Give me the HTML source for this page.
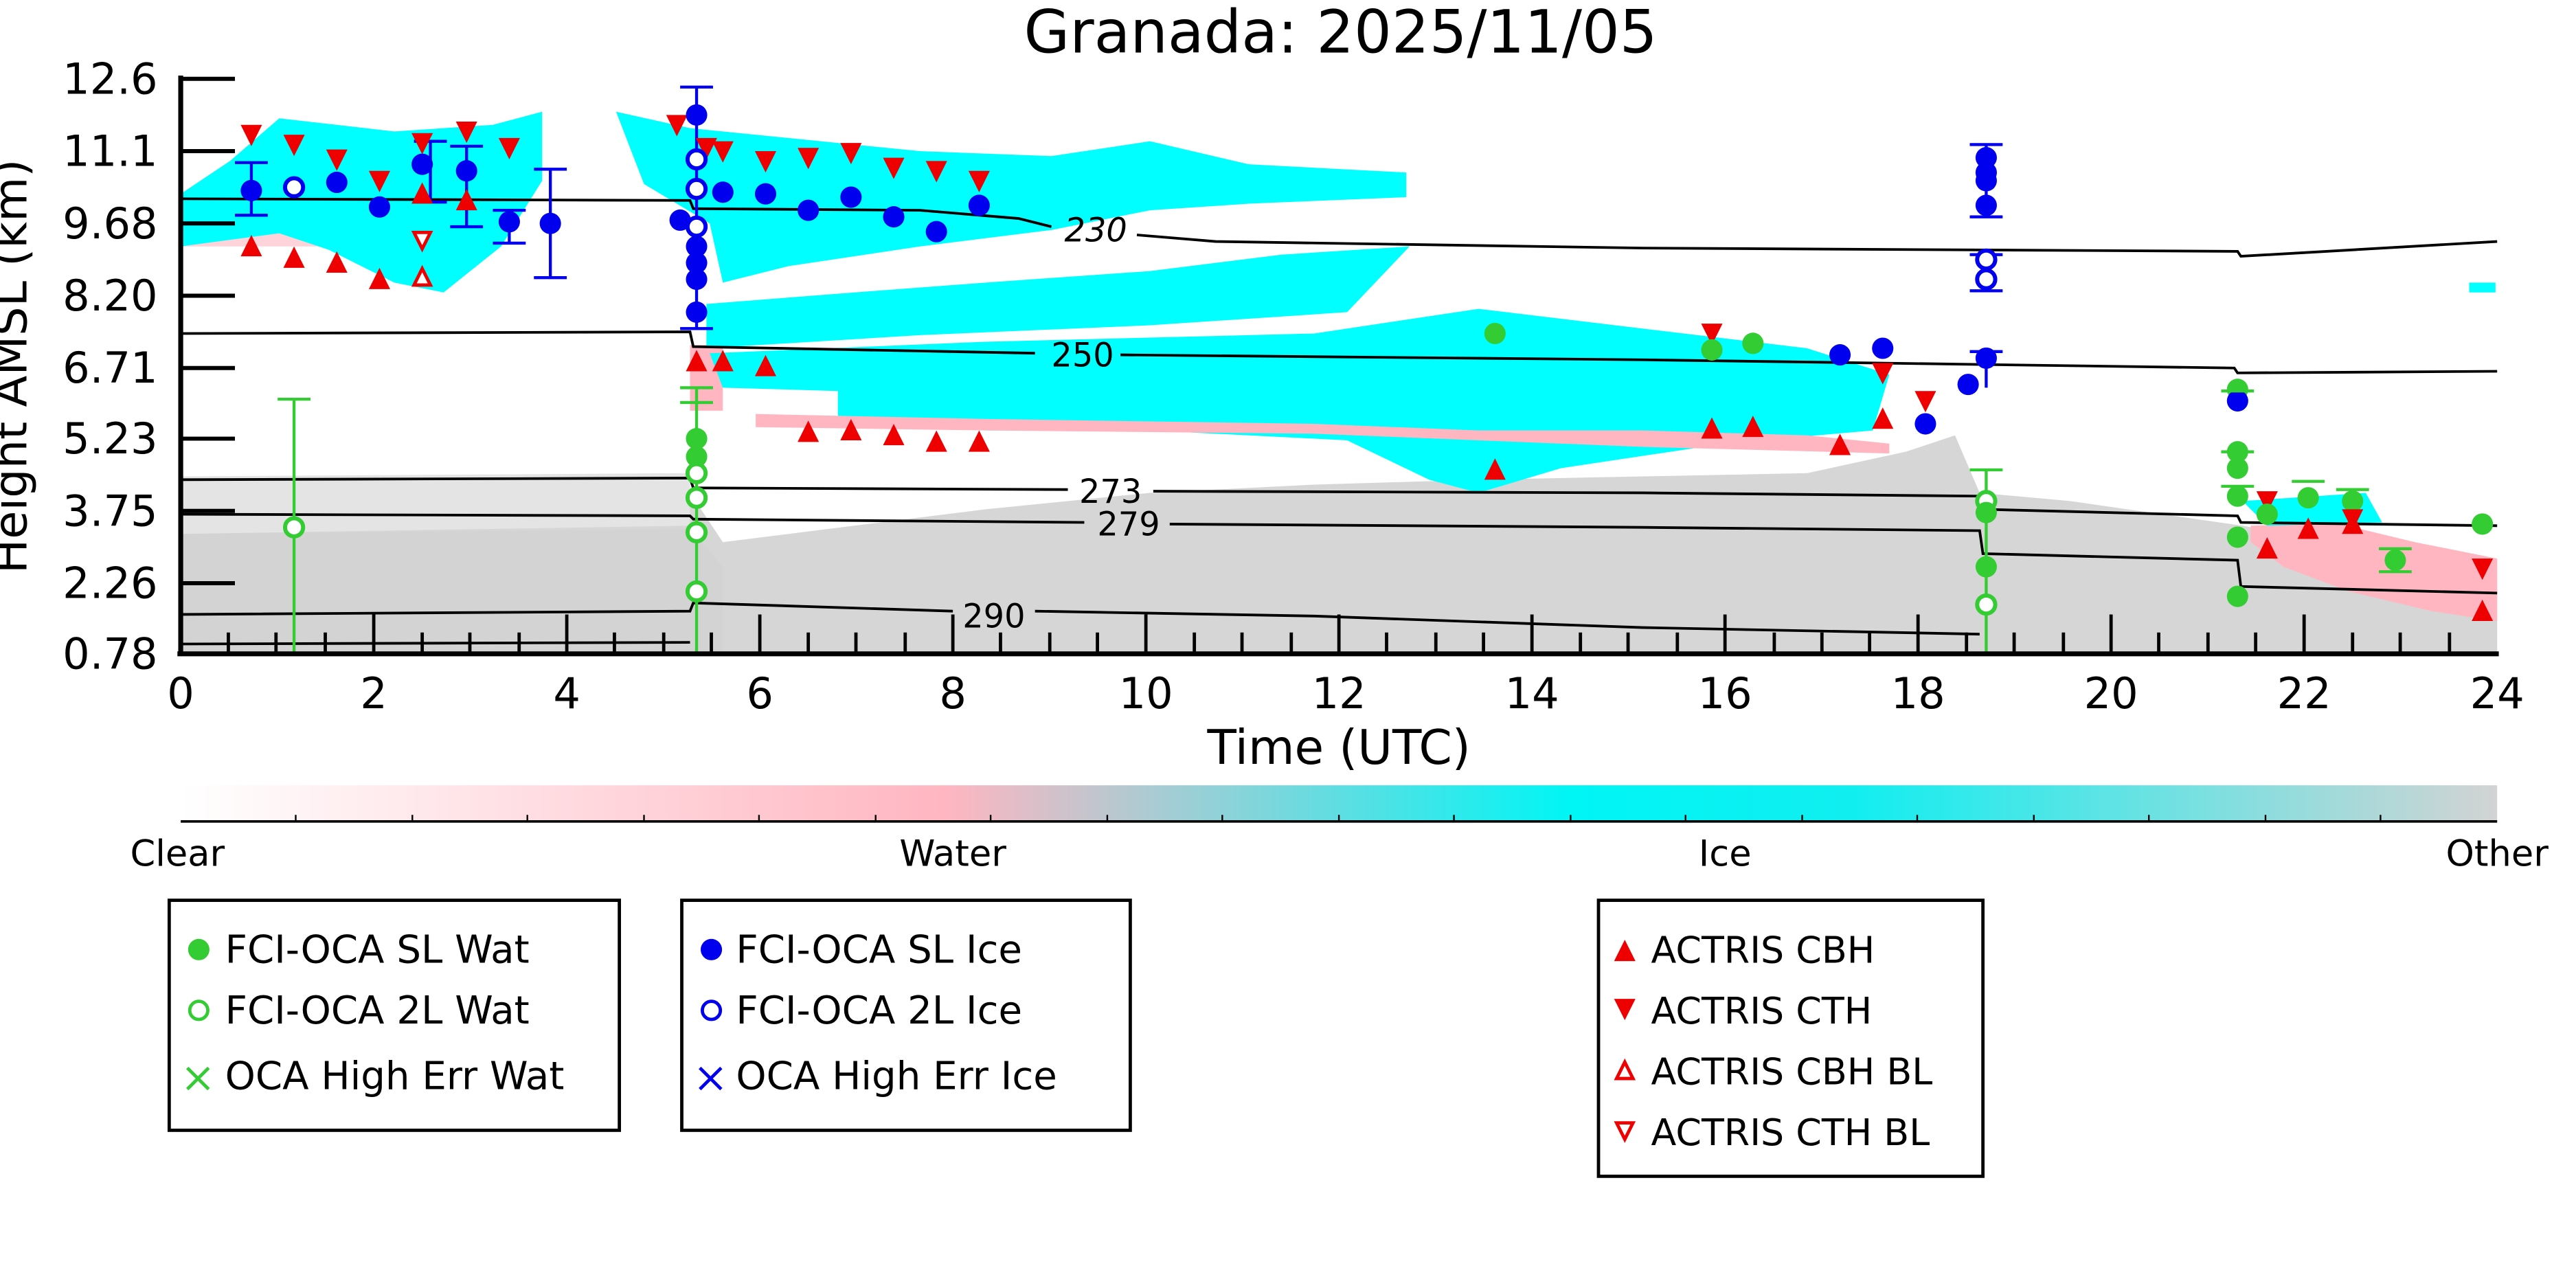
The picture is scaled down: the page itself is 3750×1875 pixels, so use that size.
<!DOCTYPE html>
<html><head><meta charset="utf-8"><style>html,body{margin:0;padding:0;background:#fff}svg{display:block}</style></head>
<body>
<svg width="3750" height="1875" viewBox="0 0 1568 784" xmlns="http://www.w3.org/2000/svg" font-family="'DejaVu Sans','Liberation Sans',sans-serif">
<defs>
<linearGradient id="cb" x1="0" x2="1">
<stop offset="0" stop-color="#fff"/><stop offset="0.33" stop-color="#ffb6c1"/><stop offset="0.6" stop-color="#00f5f5"/><stop offset="0.72" stop-color="#10eef0"/><stop offset="1" stop-color="#d3d3d3"/>
</linearGradient>
<g id="bc"><circle r="6.5" fill="#0000ee"/></g>
<g id="bo"><circle r="5.5" fill="#fff" stroke="#0000ee" stroke-width="2.5"/></g>
<g id="gc"><circle r="6.5" fill="#33cc33"/></g>
<g id="go"><circle r="5.5" fill="#fff" stroke="#33cc33" stroke-width="2.5"/></g>
<g id="tu"><polygon points="0,-7 6.5,6 -6.5,6" fill="#ee0000"/></g>
<g id="td"><polygon points="0,7 6.5,-6 -6.5,-6" fill="#ee0000"/></g>
<g id="tuo"><polygon points="0,-5.5 5,4.5 -5,4.5" fill="#fff" stroke="#ee0000" stroke-width="2"/></g>
<g id="tdo"><polygon points="0,5.5 5,-4.5 -5,-4.5" fill="#fff" stroke="#ee0000" stroke-width="2"/></g>
</defs>

<text x="816" y="32" font-size="36" text-anchor="middle">Granada: 2025/11/05</text>

<path d="M110,398 L110,300 L300,298 L420,300 L440,330 L520,320 L600,310 L700,300 L800,295 L900,292 L1000,290 L1100,288 L1160,275 L1190,265 L1205,300 L1260,305 L1365,320 L1420,330 L1520,345 L1520,398 Z" fill="#d6d6d6"/>
<path d="M110,290 L420,288 L420,320 L110,325 Z" fill="#e4e4e4"/>
<path d="M110,398 L110,325 L420,322 L440,345 L440,398 Z" fill="#d3d3d3"/>
<path d="M1370,320 L1420,318 L1470,330 L1520,340 L1520,378 L1480,372 L1430,360 L1390,345 L1370,330 Z" fill="#ffb6c1"/>
<path d="M110,150 L300,150 L270,175 L240,170 L200,150 L170,140 L110,140 Z" fill="#ffb6c1" opacity="0.6"/>
<path d="M420,210 L440,210 L440,250 L420,250 Z" fill="#ffb6c1"/>
<path d="M110,118 L140,98 L170,72 L240,80 L300,76 L330,68 L330,110 L305,150 L270,178 L240,172 L200,152 L170,142 L140,146 L110,150 Z" fill="#00ffff"/>
<path d="M375,68 L420,78 L480,84 L560,92 L640,95 L700,86 L760,100 L856,105 L856,120 L760,124 L700,128 L640,140 L560,150 L480,162 L440,172 L432,136 L392,112 Z" fill="#00ffff"/>
<path d="M430,185 L520,178 L600,172 L700,165 L780,155 L858,150 L820,190 L700,198 L560,204 L430,212 Z" fill="#00ffff"/>
<path d="M432,215 L600,208 L800,203 L900,188 L1000,200 L1100,212 L1150,228 L1140,262 L1050,270 L950,285 L900,300 L870,292 L820,268 L700,262 L600,262 L510,258 L510,238 L440,236 Z" fill="#00ffff"/>
<path d="M1365,305 L1440,300 L1450,318 L1380,320 Z" fill="#00ffff"/>
<rect x="1503" y="172" width="16" height="6" fill="#00ffff"/>
<path d="M460,252 L600,255 L800,258 L900,262 L1000,262 L1100,265 L1150,270 L1150,276 L1000,272 L900,268 L800,264 L600,262 L460,260 Z" fill="#ffb6c1"/>

<g fill="none" stroke="#000" stroke-width="1.6">
<polyline points="110,121 420,122 422,127 560,128 620,133 640,138"/>
<polyline points="692,143 740,147 1000,151 1362,153 1364,156 1520,147"/>
<polyline points="110,203 420,202 422,211 630,215"/>
<polyline points="682,216 1000,219 1360,224 1362,227 1520,226"/>
<polyline points="110,292 420,291 422,297 650,298"/>
<polyline points="702,299 1000,300 1205,302 1207,310 1362,314 1364,318 1520,320"/>
<polyline points="110,313 420,314 422,316 660,318"/>
<polyline points="712,319 1000,321 1205,323 1207,337 1362,341 1364,357 1520,361"/>
<polyline points="110,374 420,372 422,367 580,372"/>
<polyline points="630,372 800,375 1000,382 1205,386"/>
<polyline points="110,392 420,391"/>
</g>
<g font-size="20" text-anchor="middle">
<text x="667" y="147" font-style="italic">230</text>
<text x="659" y="223">250</text>
<text x="676" y="306">273</text>
<text x="687" y="326">279</text>
<text x="605" y="382">290</text>
</g>

<g stroke="#0000ee" stroke-width="1.8" fill="none">
<path d="M153,99V131M143,99H163M143,131H163"/>
<path d="M262,86V123M252,86H272M252,123H272"/>
<path d="M284,89V138M274,89H294M274,138H294"/>
<path d="M335,103V169M325,103H345M325,169H345"/>
<path d="M310,128V148M300,128H320M300,148H320"/>
<path d="M424,53V200M414,53H434M414,200H434"/>
<path d="M1209,88V132M1199,88H1219M1199,132H1219"/>
<path d="M1209,155V177M1199,155H1219M1199,177H1219"/>
<path d="M1209,214V236M1199,214H1219"/>
</g>
<g stroke="#33cc33" stroke-width="1.8" fill="none">
<path d="M179,243V398M169,243H189"/>
<path d="M424,236V398M414,236H434M414,245H434"/>
<path d="M1209,286V398M1199,286H1219"/>
</g>

<g>
<use href="#td" x="153" y="82"/><use href="#td" x="179" y="88"/><use href="#td" x="205" y="97"/><use href="#td" x="231" y="110"/><use href="#td" x="257" y="87"/><use href="#td" x="284" y="80"/><use href="#td" x="310" y="90"/>
<use href="#tu" x="153" y="150"/><use href="#tu" x="179" y="157"/><use href="#tu" x="205" y="160"/><use href="#tu" x="231" y="170"/><use href="#tu" x="257" y="118"/><use href="#tu" x="284" y="122"/>
<use href="#tdo" x="257" y="146"/><use href="#tuo" x="257" y="169"/>
<use href="#bc" x="153" y="116"/><use href="#bo" x="179" y="114"/><use href="#bc" x="205" y="111"/><use href="#bc" x="231" y="126"/><use href="#bc" x="257" y="100"/><use href="#bc" x="284" y="104"/><use href="#bc" x="310" y="135"/><use href="#bc" x="335" y="136"/>
<use href="#td" x="412" y="76"/><use href="#td" x="430" y="90"/><use href="#td" x="440" y="92"/><use href="#td" x="466" y="98"/><use href="#td" x="492" y="96"/><use href="#td" x="518" y="93"/><use href="#td" x="544" y="102"/><use href="#td" x="570" y="104"/><use href="#td" x="596" y="110"/>
<use href="#tu" x="424" y="220"/><use href="#tu" x="440" y="220"/><use href="#tu" x="466" y="223"/><use href="#tu" x="492" y="263"/><use href="#tu" x="518" y="262"/><use href="#tu" x="544" y="265"/><use href="#tu" x="570" y="269"/><use href="#tu" x="596" y="269"/>
<use href="#bc" x="424" y="70"/><use href="#bo" x="424" y="97"/><use href="#bo" x="424" y="115"/><use href="#bc" x="414" y="134"/><use href="#bo" x="424" y="138"/><use href="#bc" x="424" y="150"/><use href="#bc" x="424" y="160"/><use href="#bc" x="424" y="170"/><use href="#bc" x="424" y="190"/>
<use href="#bc" x="440" y="117"/><use href="#bc" x="466" y="118"/><use href="#bc" x="492" y="128"/><use href="#bc" x="518" y="120"/><use href="#bc" x="544" y="132"/><use href="#bc" x="570" y="141"/><use href="#bc" x="596" y="125"/>
<use href="#gc" x="424" y="267"/><use href="#gc" x="424" y="278"/><use href="#go" x="424" y="288"/><use href="#go" x="424" y="303"/><use href="#go" x="424" y="324"/><use href="#go" x="424" y="360"/><use href="#go" x="179" y="321"/>
<use href="#tu" x="910" y="286"/><use href="#gc" x="910" y="203"/>
<use href="#td" x="1042" y="203"/><use href="#gc" x="1042" y="213"/><use href="#gc" x="1067" y="209"/>
<use href="#tu" x="1042" y="261"/><use href="#tu" x="1067" y="260"/><use href="#tu" x="1120" y="271"/><use href="#tu" x="1146" y="255"/>
<use href="#bc" x="1120" y="216"/><use href="#bc" x="1146" y="212"/><use href="#td" x="1146" y="227"/><use href="#td" x="1172" y="244"/><use href="#bc" x="1172" y="258"/><use href="#bc" x="1198" y="234"/>
<use href="#bc" x="1209" y="96"/><use href="#bc" x="1209" y="105"/><use href="#bc" x="1209" y="110"/><use href="#bc" x="1209" y="125"/><use href="#bo" x="1209" y="158"/><use href="#bo" x="1209" y="170"/><use href="#bc" x="1209" y="218"/>
<use href="#go" x="1209" y="305"/><use href="#gc" x="1209" y="312"/><use href="#gc" x="1209" y="345"/><use href="#go" x="1209" y="368"/>
<use href="#gc" x="1362" y="237"/><use href="#bc" x="1362" y="244"/><use href="#gc" x="1362" y="275"/><use href="#gc" x="1362" y="285"/><use href="#gc" x="1362" y="302"/><use href="#gc" x="1362" y="327"/><use href="#gc" x="1362" y="363"/>
<use href="#td" x="1380" y="305"/><use href="#gc" x="1380" y="313"/><use href="#tu" x="1380" y="334"/>
<use href="#gc" x="1405" y="303"/><use href="#tu" x="1405" y="322"/><use href="#gc" x="1432" y="305"/><use href="#td" x="1432" y="316"/><use href="#tu" x="1432" y="319"/>
<use href="#gc" x="1458" y="341"/><use href="#gc" x="1511" y="319"/><use href="#td" x="1511" y="346"/><use href="#tu" x="1511" y="372"/>
</g>
<g stroke="#33cc33" stroke-width="1.8"><path d="M1352,275H1372M1352,296H1372M1352,238H1372M1395,293H1415M1422,298H1442M1448,334H1468M1448,348H1468"/></g>

<g stroke="#000" fill="none">
<line x1="110" y1="46" x2="110" y2="399" stroke-width="3"/>
<line x1="108" y1="398" x2="1521" y2="398" stroke-width="3"/>
<g stroke-width="2.5">
<path d="M110,48h33M110,92h33M110,136h33M110,180h33M110,224h33M110,267h33M110,311h33M110,355h33"/>
</g>
<g stroke-width="2">
<path d="M227.5,398v-24M345,398v-24M462.5,398v-24M580,398v-24M697.5,398v-24M815,398v-24M932.5,398v-24M1050,398v-24M1167.5,398v-24M1285,398v-24M1402.5,398v-24"/>
<path d="M139,398v-13M168,398v-13M198,398v-13M257,398v-13M286,398v-13M316,398v-13M374,398v-13M404,398v-13M433,398v-13M492,398v-13M521,398v-13M551,398v-13M609,398v-13M639,398v-13M668,398v-13M727,398v-13M756,398v-13M786,398v-13M844,398v-13M874,398v-13M903,398v-13M962,398v-13M991,398v-13M1021,398v-13M1080,398v-13M1109,398v-13M1138,398v-13M1197,398v-13M1226,398v-13M1256,398v-13M1314,398v-13M1344,398v-13M1373,398v-13M1432,398v-13M1461,398v-13M1491,398v-13"/>
</g>
</g>
<g font-size="26" text-anchor="end">
<text x="96" y="57">12.6</text><text x="96" y="101">11.1</text><text x="96" y="145">9.68</text><text x="96" y="189">8.20</text><text x="96" y="233">6.71</text><text x="96" y="276">5.23</text><text x="96" y="320">3.75</text><text x="96" y="364">2.26</text><text x="96" y="407">0.78</text>
</g>
<g font-size="26" text-anchor="middle">
<text x="110" y="431">0</text><text x="227.5" y="431">2</text><text x="345" y="431">4</text><text x="462.5" y="431">6</text><text x="580" y="431">8</text><text x="697.5" y="431">10</text><text x="815" y="431">12</text><text x="932.5" y="431">14</text><text x="1050" y="431">16</text><text x="1167.5" y="431">18</text><text x="1285" y="431">20</text><text x="1402.5" y="431">22</text><text x="1520" y="431">24</text>
</g>
<text x="815" y="465" font-size="29" text-anchor="middle">Time (UTC)</text>
<text transform="translate(16,223) rotate(-90)" font-size="28" text-anchor="middle">Height AMSL (km)</text>

<rect x="110" y="478" width="1410" height="22" fill="url(#cb)"/>
<line x1="110" y1="500" x2="1520" y2="500" stroke="#000" stroke-width="1.5"/>
<g stroke="#000" stroke-width="1"><path d="M180,500v-4M251,500v-4M321,500v-4M392,500v-4M462,500v-4M533,500v-4M603,500v-4M674,500v-4M744,500v-4M815,500v-4M885,500v-4M956,500v-4M1026,500v-4M1097,500v-4M1167,500v-4M1238,500v-4M1308,500v-4M1379,500v-4M1449,500v-4"/></g>
<g font-size="22" text-anchor="middle">
<text x="108" y="527">Clear</text><text x="580" y="527">Water</text><text x="1050" y="527">Ice</text><text x="1520" y="527">Other</text>
</g>

<g fill="none" stroke="#000" stroke-width="2">
<rect x="103" y="548" width="274" height="140"/>
<rect x="415" y="548" width="273" height="140"/>
<rect x="973" y="548" width="234" height="168"/>
</g>
<g font-size="23.5">
<circle cx="121" cy="578" r="6.5" fill="#33cc33"/><text x="137" y="586">FCI-OCA SL Wat</text>
<circle cx="121" cy="615" r="5.5" fill="#fff" stroke="#33cc33" stroke-width="2"/><text x="137" y="623">FCI-OCA 2L Wat</text>
<path d="M114,650l13,13M127,650l-13,13" stroke="#33cc33" stroke-width="2"/><text x="137" y="663">OCA High Err Wat</text>
<circle cx="433" cy="578" r="6.5" fill="#0000ee"/><text x="448" y="586">FCI-OCA SL Ice</text>
<circle cx="433" cy="615" r="5.5" fill="#fff" stroke="#0000ee" stroke-width="2"/><text x="448" y="623">FCI-OCA 2L Ice</text>
<path d="M426,650l13,13M439,650l-13,13" stroke="#0000ee" stroke-width="2"/><text x="448" y="663">OCA High Err Ice</text>
</g>
<g font-size="22.5">
<use href="#tu" x="989" y="579"/><text x="1005" y="586">ACTRIS CBH</text>
<use href="#td" x="989" y="614"/><text x="1005" y="623">ACTRIS CTH</text>
<use href="#tuo" x="989" y="652"/><text x="1005" y="660">ACTRIS CBH BL</text>
<use href="#tdo" x="989" y="688"/><text x="1005" y="697">ACTRIS CTH BL</text>
</g>
</svg>
</body></html>
